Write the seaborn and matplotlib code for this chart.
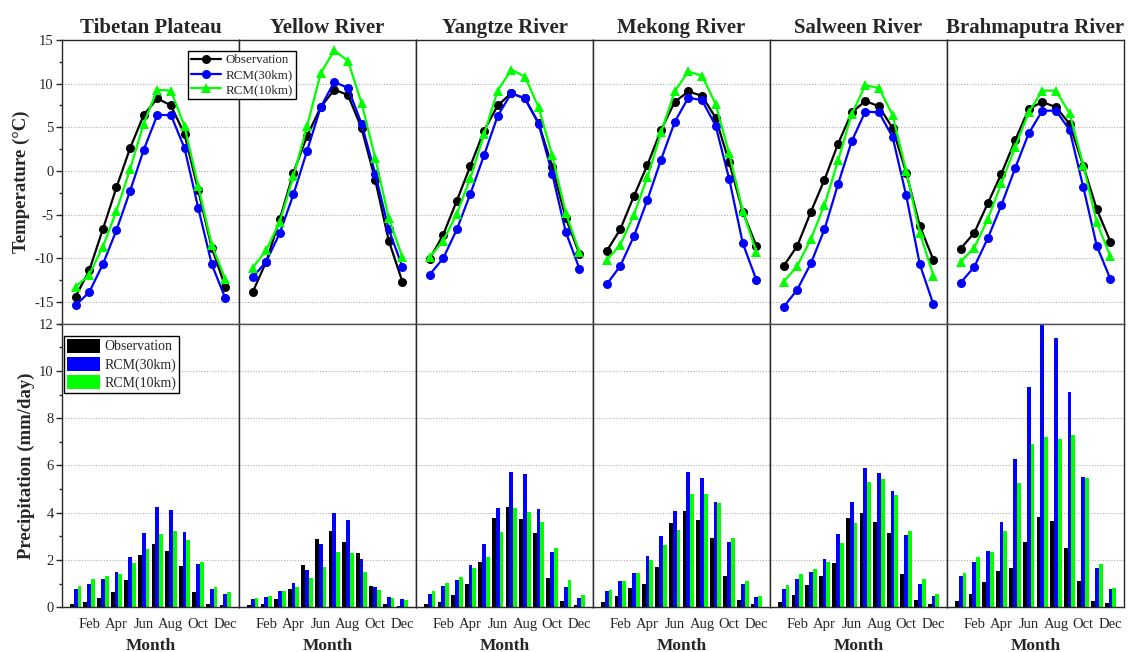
import numpy as np
import pandas as pd
import matplotlib
matplotlib.use("Agg")
import matplotlib.pyplot as plt
import seaborn as sns
from matplotlib.ticker import MultipleLocator
from matplotlib.lines import Line2D
from matplotlib.patches import Patch

regions = ["Tibetan Plateau", "Yellow River", "Yangtze River",
           "Mekong River", "Salween River", "Brahmaputra River"]
months = list(range(1, 13))
month_names = {2: "Feb", 4: "Apr", 6: "Jun", 8: "Aug", 10: "Oct", 12: "Dec"}
sources = ["Observation", "RCM(30km)", "RCM(10km)"]

# Monthly mean temperature (°C), one row per region
temp_obs = [
    [-14.4, -11.4, -6.7, -1.9, 2.6, 6.4, 8.3, 7.5, 4.2, -2.2, -8.8, -13.3],
    [-13.9, -10.4, -5.5, -0.2, 4.0, 7.3, 9.3, 8.7, 4.9, -1.0, -8.0, -12.7],
    [-10.1, -7.3, -3.4, 0.6, 4.6, 7.5, 8.9, 8.3, 5.5, 0.5, -5.4, -9.5],
    [-9.2, -6.7, -2.9, 0.7, 4.7, 7.9, 9.1, 8.6, 6.1, 1.0, -4.7, -8.6],
    [-10.9, -8.6, -4.7, -1.0, 3.1, 6.7, 8.0, 7.4, 4.9, -0.2, -6.3, -10.2],
    [-8.9, -7.1, -3.7, -0.3, 3.5, 7.1, 7.9, 7.3, 5.4, 0.6, -4.4, -8.1],
]
temp_rcm30 = [
    [-15.4, -13.9, -10.7, -6.8, -2.3, 2.4, 6.4, 6.4, 2.6, -4.2, -10.7, -14.6],
    [-12.2, -10.4, -7.1, -2.7, 2.3, 7.3, 10.2, 9.5, 5.4, -0.3, -6.7, -11.0],
    [-11.9, -10.0, -6.7, -2.6, 1.8, 6.3, 8.9, 8.3, 5.4, -0.3, -7.0, -11.2],
    [-13.0, -10.9, -7.5, -3.3, 1.3, 5.6, 8.4, 8.1, 5.2, -0.9, -8.3, -12.5],
    [-15.6, -13.6, -10.6, -6.7, -1.5, 3.4, 6.8, 6.7, 3.9, -2.8, -10.7, -15.3],
    [-12.8, -11.0, -7.7, -3.9, 0.3, 4.3, 6.9, 6.9, 4.7, -1.8, -8.6, -12.4],
]
temp_rcm10 = [
    [-13.3, -11.9, -8.7, -4.6, 0.2, 5.4, 9.3, 9.2, 5.1, -1.7, -8.5, -12.4],
    [-11.1, -9.1, -5.8, -0.6, 5.1, 11.2, 13.8, 12.6, 7.8, 1.5, -5.4, -9.9],
    [-9.9, -8.0, -4.9, -0.8, 4.2, 9.2, 11.6, 10.8, 7.3, 1.8, -4.8, -9.3],
    [-10.2, -8.5, -5.0, -0.7, 4.4, 9.1, 11.4, 10.9, 7.7, 2.0, -4.6, -9.3],
    [-12.7, -10.9, -7.8, -3.9, 1.2, 6.5, 9.8, 9.5, 6.4, 0.0, -7.1, -12.0],
    [-10.4, -8.8, -5.5, -1.4, 2.7, 6.7, 9.2, 9.2, 6.6, 0.7, -5.9, -9.8],
]

# Monthly mean precipitation (mm/day), one row per region
prec_obs = [
    [0.14, 0.22, 0.41, 0.63, 1.15, 2.20, 2.66, 2.39, 1.76, 0.66, 0.14, 0.08],
    [0.10, 0.14, 0.36, 0.76, 1.79, 2.89, 3.23, 2.77, 2.31, 0.91, 0.14, 0.06],
    [0.14, 0.24, 0.53, 0.97, 1.92, 3.80, 4.23, 3.73, 3.15, 1.25, 0.27, 0.10],
    [0.22, 0.46, 0.82, 0.98, 1.72, 3.55, 4.06, 3.68, 2.94, 1.34, 0.31, 0.14],
    [0.24, 0.52, 0.96, 1.32, 1.89, 3.76, 4.00, 3.62, 3.13, 1.40, 0.32, 0.15],
    [0.27, 0.56, 1.08, 1.52, 1.67, 2.76, 3.83, 3.65, 2.49, 1.11, 0.27, 0.18],
]
prec_rcm30 = [
    [0.76, 0.98, 1.20, 1.48, 2.14, 3.13, 4.25, 4.11, 3.17, 1.83, 0.76, 0.55],
    [0.36, 0.45, 0.69, 1.01, 1.60, 2.66, 4.00, 3.69, 2.03, 0.87, 0.42, 0.34],
    [0.56, 0.89, 1.17, 1.79, 2.68, 4.19, 5.72, 5.65, 4.16, 2.33, 0.86, 0.39],
    [0.69, 1.11, 1.45, 2.17, 3.01, 4.06, 5.73, 5.45, 4.47, 2.77, 0.97, 0.45],
    [0.77, 1.18, 1.48, 2.04, 3.10, 4.45, 5.90, 5.69, 4.93, 3.04, 1.00, 0.48],
    [1.34, 1.93, 2.38, 3.61, 6.26, 9.33, 12.3, 11.40, 9.10, 5.50, 1.67, 0.76],
]
prec_rcm10 = [
    [0.91, 1.20, 1.32, 1.41, 1.87, 2.46, 3.10, 3.21, 2.85, 1.93, 0.87, 0.65],
    [0.39, 0.48, 0.69, 0.87, 1.23, 1.70, 2.32, 2.28, 1.49, 0.73, 0.39, 0.31],
    [0.69, 1.04, 1.29, 1.65, 2.14, 3.20, 4.19, 4.04, 3.62, 2.49, 1.15, 0.52],
    [0.74, 1.11, 1.45, 2.01, 2.63, 3.27, 4.80, 4.78, 4.40, 2.92, 1.11, 0.49],
    [0.94, 1.40, 1.63, 1.90, 2.71, 3.56, 5.30, 5.44, 4.74, 3.23, 1.20, 0.58],
    [1.44, 2.11, 2.33, 3.24, 5.26, 6.89, 7.20, 7.10, 7.27, 5.47, 1.83, 0.82],
]

sns.set_style("white")
plt.rcParams["font.family"] = ["Liberation Serif", "DejaVu Serif"]
plt.rcParams["axes.unicode_minus"] = False
plt.rcParams["axes.linewidth"] = 1.0

colors = {"Observation": "#000000", "RCM(30km)": "#0000FF", "RCM(10km)": "#00FF00"}
markers = {"Observation": "o", "RCM(30km)": "o", "RCM(10km)": "^"}

fig, axes = plt.subplots(2, 6, figsize=(11.29, 6.52), dpi=100)
fig.subplots_adjust(left=0.0549, right=0.9956, top=0.9387, bottom=0.0685,
                    hspace=0, wspace=0)

TICK_FS = 10.5
grid_kw = dict(linestyle=(0, (1, 1.5)), color="#b0b0b0", linewidth=0.8)

for i, reg in enumerate(regions):
    tdf = pd.DataFrame({
        "Month": months * 3,
        "Value": temp_obs[i] + temp_rcm30[i] + temp_rcm10[i],
        "Source": [s for s in sources for _ in months],
    })
    pdf = pd.DataFrame({
        "Month": months * 3,
        "Value": prec_obs[i] + prec_rcm30[i] + prec_rcm10[i],
        "Source": [s for s in sources for _ in months],
    })

    ax = axes[0, i]
    sns.lineplot(data=tdf, x="Month", y="Value", hue="Source", style="Source",
                 hue_order=sources, style_order=sources,
                 palette=colors, markers=markers, dashes=False,
                 markersize=6.5, markeredgewidth=0, linewidth=1.6,
                 legend=False, ax=ax)
    ax.set_xlim(0, 13)
    ax.set_ylim(-17.5, 15)
    ax.yaxis.set_major_locator(MultipleLocator(5))
    ax.yaxis.set_minor_locator(MultipleLocator(2.5))
    ax.set_axisbelow(True)
    ax.yaxis.grid(True, which="major", **grid_kw)
    ax.set_xticks([])
    ax.set_xlabel("")
    ax.set_title(reg, fontsize=15, fontweight="bold", pad=5)
    ax.spines["bottom"].set_color("#555555")

    bx = axes[1, i]
    sns.barplot(data=pdf, x="Month", y="Value", hue="Source", hue_order=sources,
                palette=colors, native_scale=True, width=0.84, saturation=1,
                errorbar=None, linewidth=0, legend=False, ax=bx)
    bx.set_xlim(0, 13)
    bx.set_ylim(0, 12)
    bx.yaxis.set_major_locator(MultipleLocator(2))
    bx.yaxis.set_minor_locator(MultipleLocator(1))
    bx.set_axisbelow(True)
    bx.yaxis.grid(True, which="major", **grid_kw)
    bx.set_xticks(list(range(0, 13)))
    bx.set_xticklabels([month_names.get(m, "") for m in range(0, 13)])
    bx.set_xlabel("Month", fontsize=12.5, fontweight="bold", labelpad=5)
    bx.spines["top"].set_color("#555555")
    bx.tick_params(axis="x", which="major", direction="out", length=4,
                   width=1.0, labelsize=TICK_FS, pad=3.5)

    for a in (ax, bx):
        for s in ("left", "right", "top", "bottom"):
            a.spines[s].set_visible(True)
        if i == 0:
            a.tick_params(axis="y", which="major", direction="out", length=4,
                          width=1.0, labelsize=TICK_FS, pad=2, left=True)
            a.tick_params(axis="y", which="minor", direction="out", length=2.5,
                          width=1.0, left=True)
        else:
            a.tick_params(axis="y", which="both", left=False, labelleft=False)
        a.set_ylabel("")

axes[0, 0].set_ylabel("Temperature (°C)", fontsize=13.5, fontweight="bold", labelpad=3)
axes[1, 0].set_ylabel("Precipitation (mm/day)", fontsize=13.5, fontweight="bold", labelpad=3)

line_handles = [Line2D([0], [0], color=colors[s], marker=markers[s], markersize=6.5,
                       markeredgewidth=0, linewidth=1.6) for s in sources]
fig.legend(line_handles, sources, loc="upper left",
           bbox_to_anchor=(188 / 1129, 1 - 51 / 652), bbox_transform=fig.transFigure,
           frameon=True, fancybox=False, edgecolor="black", framealpha=1,
           fontsize=9.4, handlelength=2.3, borderpad=0.25, labelspacing=0.2,
           handletextpad=0.3, borderaxespad=0)

patch_handles = [Patch(facecolor=colors[s], edgecolor="none") for s in sources]
fig.legend(patch_handles, sources, loc="upper left",
           bbox_to_anchor=(64 / 1129, 1 - 336 / 652), bbox_transform=fig.transFigure,
           frameon=True, fancybox=False, edgecolor="black", framealpha=1,
           fontsize=10, handlelength=2.4, handleheight=1.15, borderpad=0.2,
           labelspacing=0.25, handletextpad=0.3, borderaxespad=0)

fig.savefig("out.png", dpi=100)
